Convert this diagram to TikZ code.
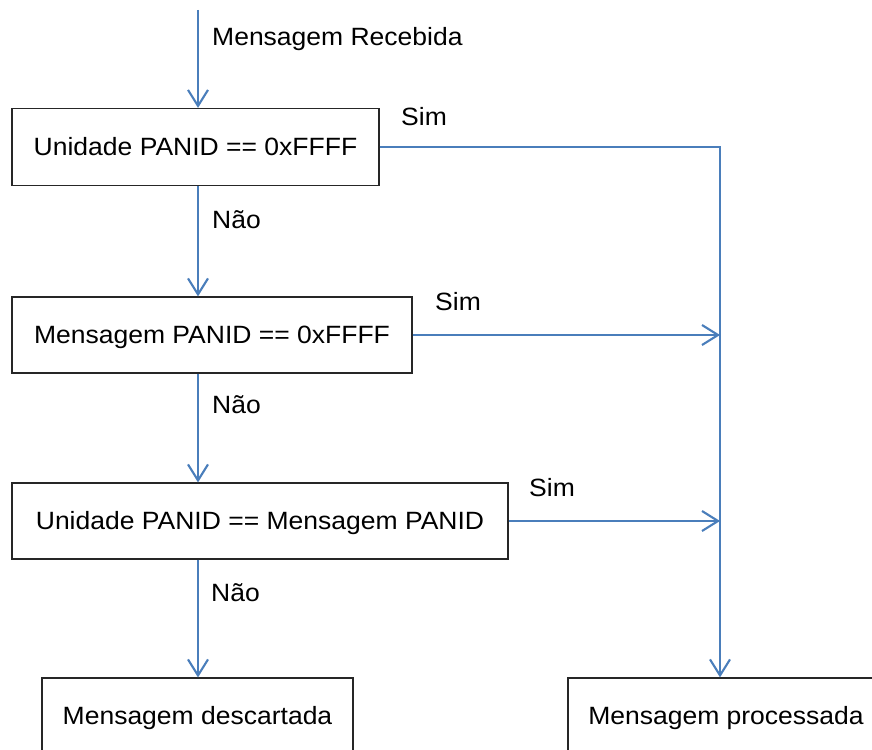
\documentclass[tikz,border=0pt]{standalone}
\usepackage{fontspec}
\setmainfont{Liberation Sans}[FakeStretch=1.06]
\usetikzlibrary{arrows.meta}
\definecolor{flowblue}{HTML}{4A7EBB}
\definecolor{boxline}{HTML}{262626}
\begin{document}
\begin{tikzpicture}[x=1pt,y=-1pt,
  txt/.style={font=\fontsize{25}{30}\selectfont,text height=17.9pt,text depth=0pt},
  box/.style={txt,draw=boxline,line width=1.2pt,rectangle,inner sep=0pt,align=center},
  lbl/.style={txt,inner sep=0pt,anchor=west},
  link/.style={draw=flowblue,line width=2.1pt},
  flow/.style={link,-{Straight Barb[length=16pt,width=20pt,line width=2.1pt]}}]
\useasboundingbox (0,0) rectangle (872,749);

% decision boxes
\node[box,minimum width=367pt,minimum height=77pt] (u1) at (195.5,147) {Unidade PANID == 0xFFFF};
\node[box,minimum width=400pt,minimum height=76pt] (m1) at (212,335) {Mensagem PANID == 0xFFFF};
\node[box,minimum width=496pt,minimum height=76pt] (u2) at (260,521) {Unidade PANID == Mensagem PANID};
% outcomes
\node[box,minimum width=311pt,minimum height=76pt] (drop) at (197.5,716) {Mensagem descartada};
\node[box,minimum width=316pt,minimum height=76pt] (done) at (726,716) {Mensagem processada};

% main vertical flow
\coordinate (start) at (198,10);
\draw[flow] (start) -- (start |- u1.north);
\draw[flow] (start |- u1.south) -- (start |- m1.north);
\draw[flow] (start |- m1.south) -- (start |- u2.north);
\draw[flow] (start |- u2.south) -- (start |- drop.north);

% "Sim" branches joining the right rail
\coordinate (rail) at (720,147);
\draw[flow] (u1.east) -- (rail) -- (rail |- done.north);
\draw[flow] (m1.east) -- (rail |- m1.east);
\draw[flow] (u2.east) -- (rail |- u2.east);

% labels
\node[lbl] (recv) at (212,37) {Mensagem Recebida};
\node[lbl] (nao1) at (212,220) {Não};
\node[lbl] (nao2) at (212,405) {Não};
\node[lbl] (nao3) at (211,593) {Não};
\node[lbl] (sim1) at (401,117) {Sim};
\node[lbl] (sim2) at (435,302) {Sim};
\node[lbl] (sim3) at (529,488) {Sim};
\end{tikzpicture}
\end{document}
